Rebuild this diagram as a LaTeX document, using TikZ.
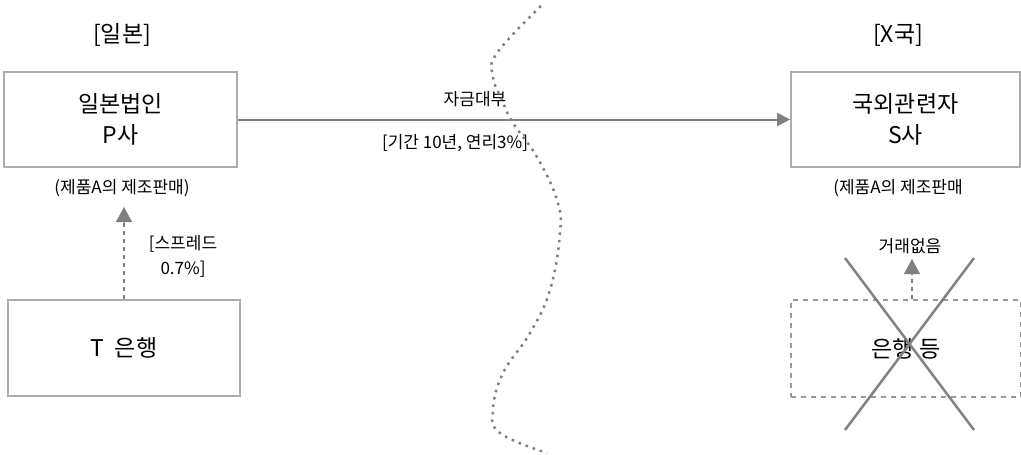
\documentclass[tikz,border=0pt]{standalone}
\usepackage{fontspec}
\setmainfont{Noto Sans CJK KR}
\usetikzlibrary{arrows.meta}
\tikzset{
  x=1pt, y=-1pt,
  box/.style={draw=gray!65, line width=1.6pt, minimum width=#1, minimum height=95pt, inner sep=0pt, align=center, font=\fontsize{23}{31}\selectfont},
  boxtxt/.style={align=center, font=\fontsize{23}{31}\selectfont},
  small/.style={align=center, font=\fontsize{17}{24}\selectfont},
  mid/.style={align=center, font=\fontsize{17}{25}\selectfont},
  conn/.style={draw=gray, line width=2pt, -{Triangle[length=13pt,width=13pt]}},
  dconn/.style={draw=gray, line width=2.5pt, dash pattern=on 4pt off 4pt, shorten >=12pt},
  dtip/.style={draw=gray, fill=gray, line width=0.5pt, solid, -{Triangle[length=15pt,width=16pt]}},
  border/.style={draw=gray, line width=2.5pt, dash pattern=on 2.5pt off 5pt},
  cross/.style={draw=gray, line width=2.5pt},
}
\begin{document}
\begin{tikzpicture}
\useasboundingbox (0,0) rectangle (1021,455);
\node[boxtxt] (jp) at (122,35) {[일본]};
\node[boxtxt] (xc) at (898,35) {[X국]};
\node[box=233pt] (P) at (120.5,119.5) {일본법인\\P사};
\node[box=229pt] (S) at (905.5,119.5) {국외관련자\\S사};
\node[box=232pt, minimum height=96pt] (T) at (124,348) {T\ \ 은행};
\node[small] (lp) at (122,188) {(제품A의 제조판매)};
\node[small] (ls) at (898,188) {(제품A의 제조판매};
\node[mid] (la) at (475,99) {자금대부};
\node[mid] (lb) at (455,143) {[기간 10년, 연리3\%]};
\node[mid] (sp) at (183,256) {[스프레드\\0.7\%]};
\node[mid] (nt) at (910,246) {거래없음};
\node[draw=gray!80, line width=2pt, dash pattern=on 5pt off 5pt, minimum width=230pt, minimum height=97pt, inner sep=0pt, boxtxt] (B) at (906,348.5) {은행 등};
\draw[conn] (P.east) -- (S.west);
\coordinate (tp) at (124,207);
\coordinate (tb) at (912,259);
\draw[dconn] (T.north) -- (tp);
\draw[dtip] (tp) ++(0,15) -- (tp);
\draw[dconn] (B.north -| tb) -- (tb);
\draw[dtip] (tb) ++(0,15) -- (tb);
\draw[border] plot[smooth, tension=0.7] coordinates {(541,6) (497,53) (493,77) (502,100) (513,123) (537,157) (557,200) (560,233) (550,290) (530,333) (503,373) (493,410) (500,433) (547,453)};
\draw[cross] (845,258) -- (974,430);
\draw[cross] (974,258) -- (845,430);
\end{tikzpicture}
\end{document}
